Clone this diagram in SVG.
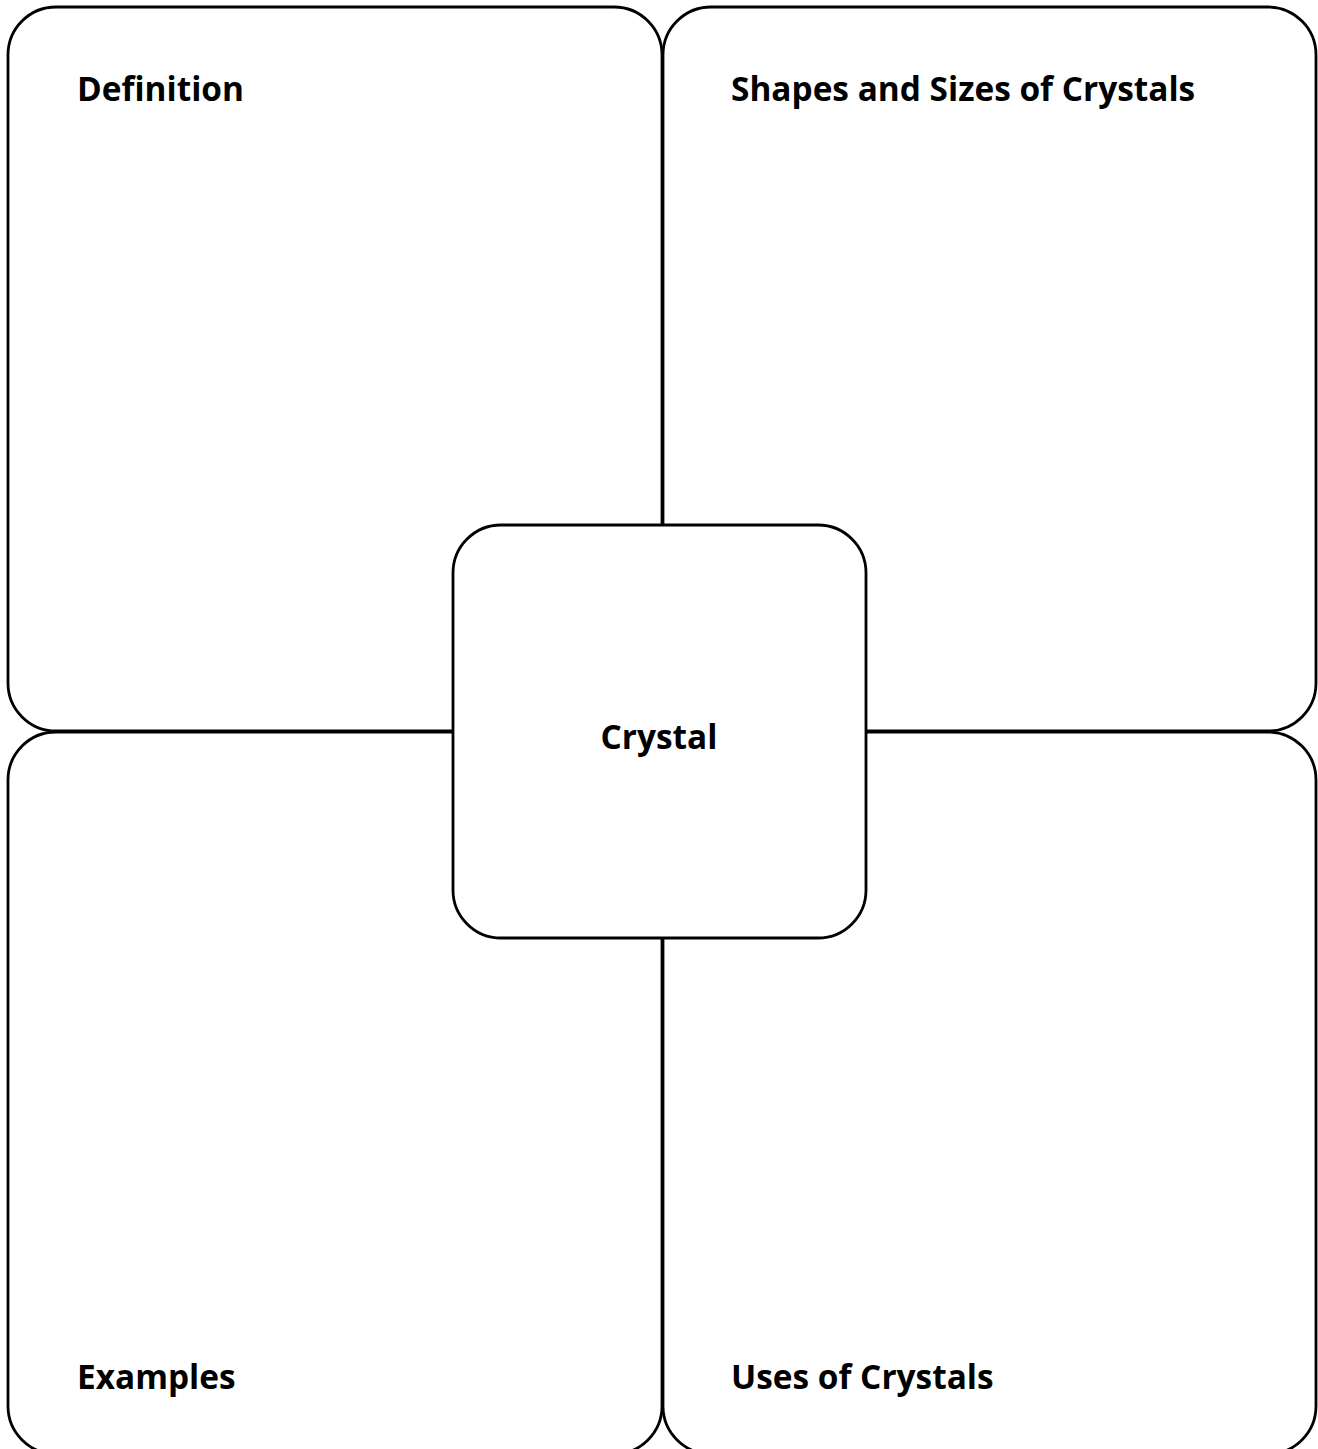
<svg xmlns="http://www.w3.org/2000/svg" width="1318" height="1449" viewBox="0 0 1318 1449">
<style>
.box{fill:#fff;stroke:#000;stroke-width:2.8}
.lbl{font-family:"Open Sans","Liberation Sans",sans-serif;font-weight:bold;font-size:33.4px;fill:#000}
</style>
<rect width="1318" height="1449" fill="#fff"/>
<g id="connectors"></g>
<g id="definition"><rect class="box" x="8" y="7" width="654" height="724" rx="48"/><text class="lbl" x="77" y="101">Definition</text></g>
<g id="shapes"><rect class="box" x="663" y="7" width="653" height="724" rx="48"/><text class="lbl" x="731" y="101">Shapes and Sizes of Crystals</text></g>
<g id="examples"><rect class="box" x="8" y="732" width="654" height="722" rx="48"/><text class="lbl" x="77" y="1389">Examples</text></g>
<g id="uses"><rect class="box" x="663" y="732" width="653" height="722" rx="48"/><text class="lbl" x="731" y="1389">Uses of Crystals</text></g>
<g id="crystal"><rect class="box" x="453" y="525" width="413" height="413" rx="48"/><text class="lbl" x="659" y="749" text-anchor="middle">Crystal</text></g>
</svg>
